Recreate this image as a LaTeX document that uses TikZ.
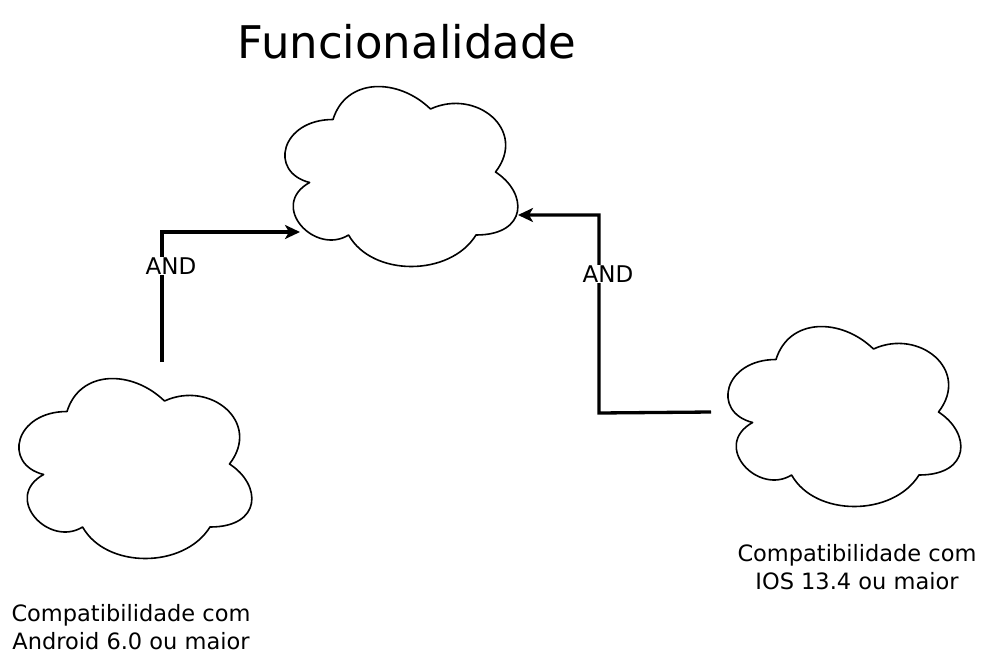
\documentclass[tikz,border=0pt]{standalone}
\usepackage{fontspec}
\setmainfont{DejaVu Sans}
\usetikzlibrary{arrows.meta}
\tikzset{
  cloudbox/.style={minimum width=260pt, minimum height=210pt, inner sep=0pt, outer sep=0pt},
  cloudline/.style={draw=black, line width=1.6pt, line join=round},
  conn/.style={draw=black, line width=3.3pt, -{Stealth[length=15pt, width=14pt, inset=4pt]}},
  andlabel/.style={fill=white, inner sep=1pt, font=\fontsize{23}{26}\selectfont},
  caption/.style={align=center, font=\fontsize{22.5}{28.5}\selectfont, inner sep=0pt},
  titletext/.style={font=\fontsize{45}{52}\selectfont, inner sep=0pt}
}
\newcommand\mycloud[1]{%
  \draw[cloudline, shift={(#1.north west)}, x=260pt, y=-210pt]
    (0.25,0.25) .. controls (0.05,0.25) and (0,0.5) .. (0.16,0.55)
    .. controls (0,0.66) and (0.18,0.9) .. (0.31,0.8)
    .. controls (0.4,1) and (0.7,1) .. (0.8,0.8)
    .. controls (1,0.8) and (1,0.6) .. (0.875,0.5)
    .. controls (1,0.3) and (0.8,0.1) .. (0.625,0.2)
    .. controls (0.5,0.05) and (0.3,0.05) .. (0.25,0.25) -- cycle;}
\begin{document}
\begin{tikzpicture}[x=1pt, y=-1pt]
  \useasboundingbox[fill=white] (0,0) rectangle (985,664);
  % clouds
  \node[cloudbox] (top) at (398,172) {};
  \node[cloudbox] (lc) at (132,464) {};
  \node[cloudbox] (rc) at (841,412) {};
  \mycloud{top}
  \mycloud{lc}
  \mycloud{rc}
  % texts
  \node[titletext] (title) at (407,42) {Funcionalidade};
  \node[caption] (lcap) at (131,627) {Compatibilidade com\\Android 6.0 ou maior};
  \node[caption] (rcap) at (857,567) {Compatibilidade com\\IOS 13.4 ou maior};
  % connector end points
  \coordinate (ls) at (162,362);
  \coordinate (tl) at (300,232);
  \coordinate (tr) at (518,215);
  \coordinate (rbend) at (599,413);
  \draw[conn] (ls) |- (tl);
  \draw[conn] (rc.west) -- (rbend) |- (tr);
  \node[andlabel] (and1) at (171,266) {AND};
  \node[andlabel] (and2) at (608,274) {AND};
\end{tikzpicture}
\end{document}
